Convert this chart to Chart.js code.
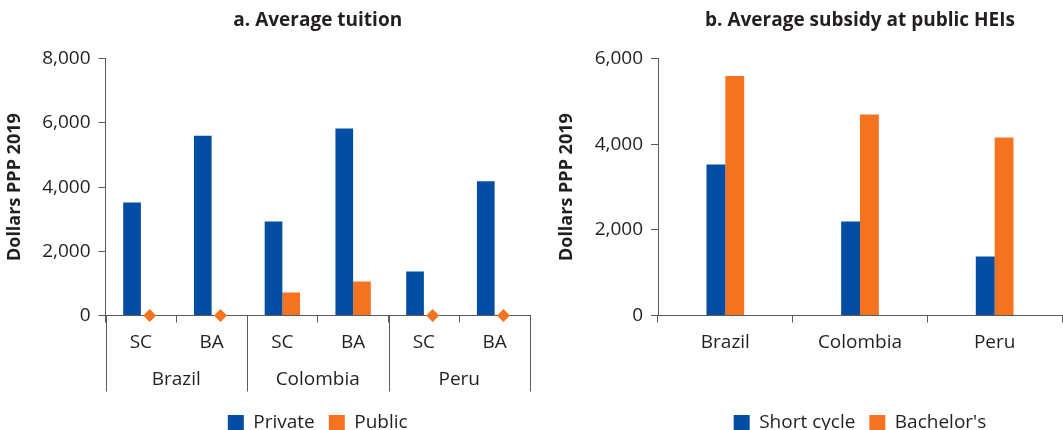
<!DOCTYPE html>
<html>
<head>
<meta charset="utf-8">
<script src="https://cdn.jsdelivr.net/npm/chart.js@4.4.1/dist/chart.umd.min.js"></script>
<style>
  body { margin: 0; background: #fff; overflow: hidden; }
  #left { position: absolute; left: 0; top: 0; width: 531px; height: 430px; }
  #right { position: absolute; left: 531px; top: 0; width: 532px; height: 430px; }
</style>
</head>
<body>
<div id="left"><canvas id="tuition"></canvas></div>
<div id="right"><canvas id="subsidy"></canvas></div>
<script>
// panel a: tuition by level, grouped by country
const tuitionLevels = ["SC", "BA", "SC", "BA", "SC", "BA"];
const tuitionCountries = ["Brazil", "Colombia", "Peru"];
const privateTuition = [3520, 5600, 2930, 5830, 1370, 4180];
const publicTuition = [0, 0, 720, 1060, 0, 0];
const tuitionMax = 8000;

// panel b: subsidy at public HEIs
const subsidyCountries = ["Brazil", "Colombia", "Peru"];
const shortCycle = [3530, 2200, 1380];
const bachelors = [5600, 4700, 4160];
const subsidyMax = 6000;

const tickStep = 2000;

const blue = "#034ea2";
const orange = "#f47321";
const axisColor = "#5a5a5a";
const textColor = "#231f20";

Chart.defaults.font.family = "'Open Sans', sans-serif";
Chart.defaults.color = textColor;

const fmt = (v) => v.toLocaleString("en-US");

// public tuition of zero is shown as a diamond on the axis
const zeroMarks = {
  id: "zeroMarks",
  afterDatasetsDraw(chart) {
    const meta = chart.getDatasetMeta(1);
    const ctx = chart.ctx;
    ctx.save();
    ctx.fillStyle = orange;
    meta.data.forEach((bar, i) => {
      if (publicTuition[i] !== 0) return;
      const r = 6.5;
      ctx.beginPath();
      ctx.moveTo(bar.x, bar.y - r);
      ctx.lineTo(bar.x + r, bar.y);
      ctx.lineTo(bar.x, bar.y + r);
      ctx.lineTo(bar.x - r, bar.y);
      ctx.closePath();
      ctx.fill();
    });
    ctx.restore();
  },
};

// second row of x labels (countries) with long separators
const countryGroups = {
  id: "countryGroups",
  afterDraw(chart) {
    const x = chart.scales.x;
    const ctx = chart.ctx;
    const y0 = chart.chartArea.bottom;
    const half = (x.getPixelForValue(1) - x.getPixelForValue(0)) / 2;
    ctx.save();
    ctx.strokeStyle = axisColor;
    ctx.lineWidth = 1;
    for (let g = 0; g <= tuitionCountries.length; g++) {
      const px = Math.round(x.getPixelForValue(g * 2) - half) + 0.5;
      ctx.beginPath();
      ctx.moveTo(px, y0);
      ctx.lineTo(px, y0 + 76);
      ctx.stroke();
    }
    ctx.fillStyle = textColor;
    ctx.font = "19px 'Open Sans', sans-serif";
    ctx.textAlign = "center";
    ctx.textBaseline = "middle";
    tuitionCountries.forEach((c, g) => {
      const cx = (x.getPixelForValue(g * 2) + x.getPixelForValue(g * 2 + 1)) / 2;
      ctx.fillText(c, cx, y0 + 64.5);
    });
    ctx.restore();
  },
};

function yScale(max, width) {
  return {
    min: 0,
    max: max,
    ticks: { stepSize: tickStep, callback: fmt, padding: 8, font: { size: 19 }, color: textColor },
    grid: { drawOnChartArea: false, tickLength: 7, color: axisColor },
    border: { color: axisColor, width: 1 },
    afterFit: (s) => { s.width = width; },
  };
}

function xScale(height) {
  return {
    grid: { drawOnChartArea: false, offset: true, tickLength: 7, color: axisColor },
    border: { color: axisColor, width: 1 },
    ticks: { font: { size: 19 }, padding: 9, color: textColor, maxRotation: 0 },
    afterFit: (s) => { s.height = height; },
  };
}

function titleOpts(text) {
  return {
    display: true,
    text: text,
    fullSize: false,
    color: textColor,
    font: { size: 19, weight: "bold" },
    padding: { top: 9, bottom: 27 },
  };
}

const legendOpts = {
  position: "bottom",
  fullSize: false,
  labels: { boxWidth: 16, boxHeight: 16, padding: 14, font: { size: 19 }, color: textColor },
};

const yTitle = (pad) => ({
  display: true,
  text: "Dollars PPP 2019",
  color: textColor,
  font: { size: 18, weight: "bold" },
  padding: { top: pad, bottom: 0 },
});

const tuitionY = yScale(tuitionMax, 105.5);
tuitionY.title = yTitle(4);

new Chart(document.getElementById("tuition"), {
  type: "bar",
  data: {
    labels: tuitionLevels,
    datasets: [
      { label: "Private", data: privateTuition, backgroundColor: blue },
      { label: "Public", data: publicTuition, backgroundColor: orange },
    ],
  },
  options: {
    animation: false,
    maintainAspectRatio: false,
    datasets: { bar: { categoryPercentage: 0.5, barPercentage: 1 } },
    layout: { padding: { top: 0, left: 0, right: 1, bottom: -12.5 } },
    plugins: {
      title: titleOpts("a. Average tuition"),
      legend: legendOpts,
      tooltip: { enabled: false },
    },
    scales: {
      x: xScale(84),
      y: tuitionY,
    },
  },
  plugins: [zeroMarks, countryGroups],
});

const subsidyY = yScale(subsidyMax, 127);
subsidyY.title = yTitle(25);

new Chart(document.getElementById("subsidy"), {
  type: "bar",
  data: {
    labels: subsidyCountries,
    datasets: [
      { label: "Short cycle", data: shortCycle, backgroundColor: blue },
      { label: "Bachelor's", data: bachelors, backgroundColor: orange },
    ],
  },
  options: {
    animation: false,
    maintainAspectRatio: false,
    datasets: { bar: { categoryPercentage: 0.28, barPercentage: 1 } },
    layout: { padding: { top: 0, left: 0, right: 1, bottom: -12.5 } },
    plugins: {
      title: titleOpts("b. Average subsidy at public HEIs"),
      legend: legendOpts,
      tooltip: { enabled: false },
    },
    scales: {
      x: xScale(84),
      y: subsidyY,
    },
  },
});
</script>
</body>
</html>
